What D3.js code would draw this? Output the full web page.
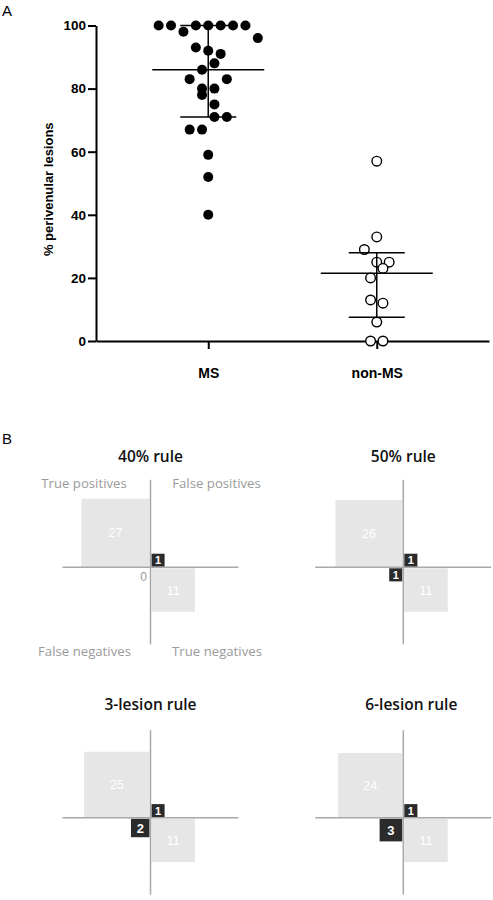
<!DOCTYPE html>
<html>
<head>
<meta charset="utf-8">
<script src="https://cdn.jsdelivr.net/npm/d3@7"></script>
<style>
  html, body { margin: 0; padding: 0; background: #fff; }
  svg { display: block; }
</style>
</head>
<body>
<svg id="chart" width="493" height="900"></svg>
<script>
// ---------- DATA ----------
const groups = ["MS", "non-MS"];
const msValues = [100,100,100,100,100,100,100, 98, 96, 93, 92, 91, 88, 86, 83, 83, 80, 80, 78, 75, 71, 71, 67, 67, 59, 52, 40];
const msJitter = [-4,-3,-1,0,1,2,3, -2, 4, -1, 0, 1, 0.5, -0.5, -1.5, 1.5, -0.5, 0.5, -0.5, 0.5, 0.5, 1.5, -1.5, -0.5, 0, 0, 0];
const nonMsValues = [57, 33, 29, 25, 25, 23, 20, 13, 12, 6, 0, 0];
const nonMsJitter = [0, 0, -1, 0, 1, 0.5, -0.5, -0.5, 0.5, 0, -0.5, 0.5];
const msSummary = { median: 86, q1: 71, q3: 100 };
const nonMsSummary = { median: 21.5, q1: 7.5, q3: 28 };
const yTicks = [0, 20, 40, 60, 80, 100];

const ruleNames = ["40% rule", "50% rule", "3-lesion rule", "6-lesion rule"];
const truePos = [27, 26, 25, 24];
const falsePos = [1, 1, 1, 1];
const falseNeg = [0, 1, 2, 3];
const trueNeg = [11, 11, 11, 11];
const quadLabels = ["True positives", "False positives", "False negatives", "True negatives"];

// ---------- PANEL A ----------
const svg = d3.select("#chart");
const sansBold = "'Liberation Sans', Arial, sans-serif";

svg.append("text").attr("x", 2).attr("y", 16).attr("font-family", sansBold)
  .attr("font-size", 15).attr("fill", "#000").text("A");
svg.append("text").attr("x", 2).attr("y", 444).attr("font-family", sansBold)
  .attr("font-size", 15).attr("fill", "#000").text("B");

const y = d3.scaleLinear().domain([0, 100]).range([341, 25.5]);
const x = d3.scalePoint().domain(groups).range([96, 489]).padding(0.666);
const jit = d3.scaleLinear().domain([-1, 1]).range([-12.4, 12.4]);

const gA = svg.append("g");

const yAxis = gA.append("g").attr("transform", "translate(96,0)")
  .call(d3.axisLeft(y).tickValues(yTicks).tickSize(8).tickSizeOuter(0).tickPadding(2));
yAxis.select(".domain").attr("stroke-width", 2);
yAxis.selectAll(".tick line").attr("stroke-width", 2);
yAxis.selectAll(".tick text").attr("font-family", sansBold).attr("font-weight", "bold")
  .attr("font-size", 13.5).attr("fill", "#000");

const xAxis = gA.append("g").attr("transform", "translate(0,341)")
  .call(d3.axisBottom(x).tickSize(8).tickSizeOuter(0).tickPadding(19));
xAxis.select(".domain").attr("stroke-width", 2);
xAxis.selectAll(".tick line").attr("stroke-width", 2);
xAxis.selectAll(".tick text").attr("font-family", sansBold).attr("font-weight", "bold")
  .attr("font-size", 14).attr("fill", "#000");

gA.append("text")
  .attr("transform", "translate(53," + ((y(0) + y(100)) / 2 + 6) + ") rotate(-90)")
  .attr("text-anchor", "middle").attr("font-family", sansBold).attr("font-weight", "bold")
  .attr("font-size", 13).attr("fill", "#000").text("% perivenular lesions");

// dots
gA.append("g").selectAll("circle").data(msValues).join("circle")
  .attr("cx", (d, i) => x("MS") + jit(msJitter[i]))
  .attr("cy", d => y(d))
  .attr("r", 5).attr("fill", "#000");

gA.append("g").selectAll("circle").data(nonMsValues).join("circle")
  .attr("cx", (d, i) => x("non-MS") + jit(nonMsJitter[i]))
  .attr("cy", d => y(d))
  .attr("r", 4.8).attr("fill", "#fff").attr("stroke", "#000").attr("stroke-width", 1.4);

// median + IQR bars
function drawSummary(cx, s) {
  const g = gA.append("g").attr("stroke", "#000").attr("stroke-width", 1.5);
  g.append("line").attr("x1", cx).attr("x2", cx).attr("y1", y(s.q3)).attr("y2", y(s.q1));
  g.append("line").attr("x1", cx - 56).attr("x2", cx + 56).attr("y1", y(s.median)).attr("y2", y(s.median));
  g.append("line").attr("x1", cx - 28).attr("x2", cx + 28).attr("y1", y(s.q3)).attr("y2", y(s.q3));
  g.append("line").attr("x1", cx - 28).attr("x2", cx + 28).attr("y1", y(s.q1)).attr("y2", y(s.q1));
}
drawSummary(x("MS"), msSummary);
drawSummary(x("non-MS"), nonMsSummary);

// ---------- PANEL B ----------
const titleFont = "'Open Sans', 'Noto Sans', sans-serif";
const colX = [150.5, 403.3];
const rowY = [567.3, 817.7];
const rowTitleY = [456.7, 704];
const side = d3.scaleSqrt().domain([0, 27]).range([0, 13.1 * Math.sqrt(27)]);
const gap = 1;
const lightFill = "#e6e6e6", darkFill = "#2b2b2b", axisGray = "#a8a8a8", labelGray = "#9a9a9a";

ruleNames.forEach((name, i) => {
  const ox = colX[i % 2], oy = rowY[Math.floor(i / 2)];
  const g = svg.append("g").attr("transform", `translate(${ox},${oy})`);
  const ty = rowTitleY[Math.floor(i / 2)] - oy;

  g.append("text").attr("x", i === 3 ? 8 : 0).attr("y", ty).attr("dy", "0.36em")
    .attr("text-anchor", "middle").attr("font-family", titleFont).attr("font-weight", 600)
    .attr("font-size", 15.5).attr("fill", "#111").text(name);

  const cells = [
    { n: truePos[i], sx: -1, sy: -1, dark: false },
    { n: falsePos[i], sx: 1, sy: -1, dark: true },
    { n: falseNeg[i], sx: -1, sy: 1, dark: true },
    { n: trueNeg[i], sx: 1, sy: 1, dark: false }
  ];

  cells.forEach(c => {
    const s = side(c.n);
    if (c.n > 0) {
      const rx = c.sx < 0 ? -gap - s : gap;
      const ry = c.sy < 0 ? -gap * 0.5 - s : gap;
      g.append("rect").attr("x", rx).attr("y", ry).attr("width", s).attr("height", s)
        .attr("fill", c.dark ? darkFill : lightFill);
      g.append("text").attr("x", rx + s / 2).attr("y", ry + s / 2).attr("dy", "0.36em")
        .attr("text-anchor", "middle").attr("font-family", sansBold)
        .attr("font-weight", c.dark ? "bold" : "normal")
        .attr("font-size", c.dark ? (s < 14 ? 11 : 13) : 12.5)
        .attr("fill", "#fff").text(c.n);
    } else {
      g.append("text").attr("x", -7).attr("y", 9).attr("dy", "0.36em")
        .attr("text-anchor", "middle").attr("font-family", sansBold)
        .attr("font-size", 12).attr("fill", labelGray).text(c.n);
    }
  });

  g.append("line").attr("x1", -88).attr("x2", 88).attr("y1", 0).attr("y2", 0)
    .attr("stroke", axisGray).attr("stroke-width", 1.5);
  g.append("line").attr("x1", 0).attr("x2", 0).attr("y1", -87.5).attr("y2", 77)
    .attr("stroke", axisGray).attr("stroke-width", 1.5);

  if (i === 0) {
    const pos = [[-66.5, -84], [66, -84], [-66, 84.4], [66.5, 84.4]];
    quadLabels.forEach((t, k) => {
      g.append("text").attr("x", pos[k][0]).attr("y", pos[k][1]).attr("dy", "0.36em")
        .attr("text-anchor", "middle").attr("font-family", titleFont)
        .attr("font-size", 13.2).attr("fill", labelGray).text(t);
    });
  }
});
</script>
</body>
</html>
